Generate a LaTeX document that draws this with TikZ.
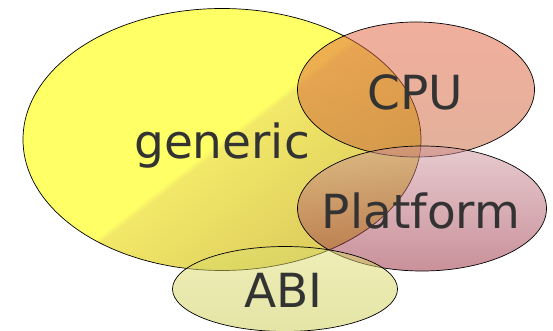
\documentclass[tikz,border=0pt]{standalone}
\usepackage{fontspec}
\setmainfont{DejaVu Sans}

\definecolor{genA}{RGB}{255,255,102}
\definecolor{genB}{RGB}{242,232,104}
\definecolor{genC}{RGB}{196,172,80}
\definecolor{cpuA}{RGB}{228,96,60}
\definecolor{cpuB}{RGB}{200,100,56}
\definecolor{platA}{RGB}{208,152,160}
\definecolor{platB}{RGB}{150,36,54}
\definecolor{abiA}{RGB}{222,222,112}
\definecolor{abiB}{RGB}{204,204,80}
\definecolor{labeltext}{RGB}{51,51,51}

% bright yellow on the upper left half, darkening towards the lower right
\pgfdeclarehorizontalshading{genshade}{100bp}{color(0bp)=(genA); color(50bp)=(genA); color(51bp)=(genB); color(100bp)=(genC)}

\begin{document}
\begin{tikzpicture}[x=1pt,y=-1pt,
  setedge/.style={draw=black, line width=0.7pt},
  setlabel/.style={anchor=base, text=labeltext, font=\fontsize{47}{56}\selectfont, inner sep=0pt}]

\path[fill=white] (0,0) rectangle (553,331);
\useasboundingbox (0,0) rectangle (553,331);

% generic
\shade[shading=genshade, shading angle=-52] (222,139.5) ellipse [x radius=199, y radius=131];
\draw[setedge] (222,139.5) ellipse [x radius=199, y radius=131];

% CPU
\shade[top color=cpuA, bottom color=cpuB, fill opacity=0.5] (416,89.5) ellipse [x radius=118.5, y radius=67.5];
\draw[setedge] (416,89.5) ellipse [x radius=118.5, y radius=67.5];

% Platform
\shade[top color=platA, bottom color=platB, fill opacity=0.5] (422,208.5) ellipse [x radius=124.5, y radius=62.5];
\draw[setedge] (422,208.5) ellipse [x radius=124.5, y radius=62.5];

% ABI
\shade[top color=abiA, bottom color=abiB, fill opacity=0.5] (285,289) ellipse [x radius=112.5, y radius=42.5];
\draw[setedge] (285,289) ellipse [x radius=112.5, y radius=42.5];

% labels
\node[setlabel] (generic) at (222,158) {generic};
\node[setlabel] (cpu) at (415,109.3) {CPU};
\node[setlabel] (platform) at (421,228.3) {Platform};
\node[setlabel] (abi) at (283.5,307.3) {ABI};
\end{tikzpicture}
\end{document}
